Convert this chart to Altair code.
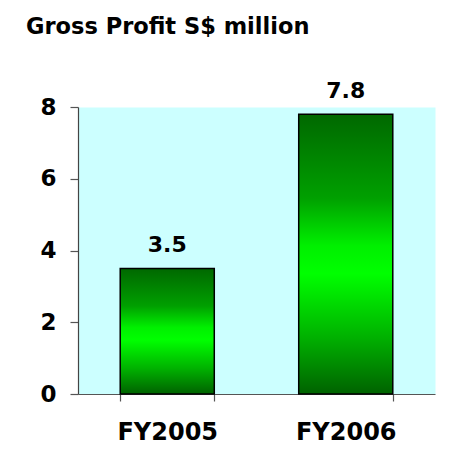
import altair as alt
import pandas as pd

years = ["FY2005", "FY2006"]
profit = [3.5, 7.8]
y_ticks = [0, 2, 4, 6, 8]

df = pd.DataFrame({"year": years, "profit": profit})

FONT = "DejaVu Sans"

grad = alt.Gradient(
    gradient="linear",
    x1=0, x2=0, y1=0, y2=1,
    stops=[
        alt.GradientStop(color="#006800", offset=0),
        alt.GradientStop(color="#00a000", offset=0.3),
        alt.GradientStop(color="#00f000", offset=0.47),
        alt.GradientStop(color="#00ff00", offset=0.57),
        alt.GradientStop(color="#00b000", offset=0.8),
        alt.GradientStop(color="#006200", offset=1),
    ],
)

x_enc = alt.X(
    "year:N",
    sort=years,
    title=None,
    scale=alt.Scale(paddingInner=0.473, paddingOuter=0.2365),
    axis=alt.Axis(
        labelAngle=0,
        labelFont=FONT,
        labelFontSize=24,
        labelFontWeight="bold",
        labelColor="black",
        labelPadding=19,
        tickSize=7,
        tickBand="extent",
        tickColor="#555555",
        domainColor="#555555",
        domainWidth=1.2,
        tickWidth=1.2,
    ),
)
y_enc = alt.Y(
    "profit:Q",
    title=None,
    scale=alt.Scale(domain=[0, 8], nice=False),
    axis=alt.Axis(
        values=y_ticks,
        grid=False,
        labelFont=FONT,
        labelFontSize=23,
        labelFontWeight="bold",
        labelColor="black",
        labelPadding=14,
        tickSize=8,
        tickColor="#555555",
        domainColor="#444444",
        domainWidth=1.2,
        tickWidth=1.2,
    ),
)

bars = alt.Chart(df).mark_bar(
    color=grad, stroke="black", strokeWidth=1.5
).encode(x=x_enc, y=y_enc)

labels = alt.Chart(df).mark_text(
    dy=-16,
    baseline="alphabetic",
    font=FONT,
    fontSize=22,
    fontWeight="bold",
    color="black",
).encode(
    x=alt.X("year:N", sort=years),
    y=alt.Y("profit:Q"),
    text=alt.Text("profit:Q", format=".1f"),
)

chart = (
    alt.layer(bars, labels)
    .properties(
        width=357,
        height=287,
        autosize=alt.AutoSizeParams(type="none"),
        padding={"left": 70, "top": 99, "right": 15, "bottom": 54},
        background="white",
        title=alt.TitleParams(
            "Gross Profit S$ million",
            anchor="start",
            frame="group",
            dx=-52,
            offset=24,
            baseline="alphabetic",
            font=FONT,
            fontSize=22.5,
            fontWeight="bold",
            color="black",
        ),
    )
    .configure_view(fill="#ccffff", stroke="transparent")
)

chart.save("out.html", embed_options={"renderer": "svg", "actions": False})
